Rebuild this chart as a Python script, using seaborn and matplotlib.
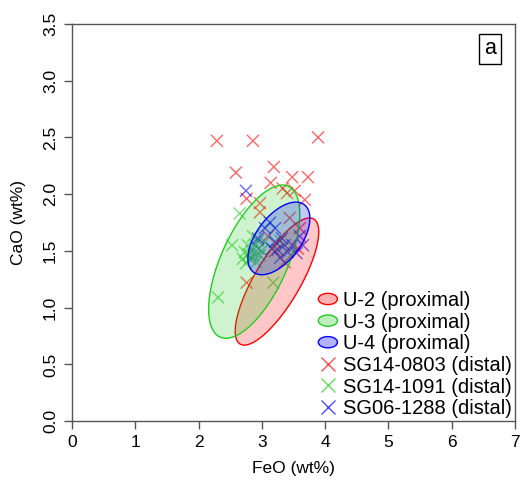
import numpy as np
import pandas as pd
import matplotlib
matplotlib.use("Agg")
import matplotlib.pyplot as plt
import seaborn as sns
from matplotlib.patches import Polygon, Ellipse, Patch
from matplotlib.legend_handler import HandlerPatch
from matplotlib.lines import Line2D

# ---------------- data ----------------
sg0803_feo = [2.29, 2.86, 3.89, 2.59, 3.19, 3.48, 3.73, 3.14, 3.33, 3.52, 2.76, 2.97,
              3.40, 2.97, 3.44, 3.68, 3.57, 2.76, 3.10, 3.36, 3.60, 3.21]
sg0803_cao = [2.47, 2.47, 2.50, 2.19, 2.24, 2.15, 2.15, 2.10, 2.05, 2.03, 1.96, 1.92,
              2.01, 1.84, 1.79, 1.95, 1.52, 1.22, 1.63, 1.40, 1.70, 1.50]

sg1091_feo = [2.31, 2.53, 2.65, 3.18, 2.70, 2.75, 2.84, 2.89, 2.94, 2.81, 3.00, 2.78,
              2.91, 2.97, 3.05, 2.86, 2.73, 3.29, 2.88, 2.80, 2.95]
sg1091_cao = [1.09, 1.55, 1.83, 1.22, 1.43, 1.39, 1.50, 1.55, 1.59, 1.43, 1.50, 1.55,
              1.40, 1.46, 1.58, 1.63, 1.49, 1.59, 1.45, 1.47, 1.52]

sg1288_feo = [2.75, 3.13, 3.21, 3.05, 3.32, 3.21, 3.36, 3.48, 3.25, 3.41, 3.16, 3.55,
              3.60, 2.94, 3.29, 3.65]
sg1288_cao = [2.03, 1.75, 1.70, 1.70, 1.61, 1.58, 1.55, 1.55, 1.51, 1.49, 1.52, 1.48,
              1.63, 1.61, 1.44, 1.55]

# proximal confidence ellipses: centre, half-ranges, correlation
ell_labels = ["U-2 (proximal)", "U-3 (proximal)", "U-4 (proximal)"]
ell_cx = [3.24, 2.88, 3.27]
ell_cy = [1.23, 1.405, 1.61]
ell_sx = [0.66, 0.72, 0.49]
ell_sy = [0.56, 0.675, 0.32]
ell_r = [0.78, 0.62, 0.55]

pt_labels = ["SG14-0803 (distal)", "SG14-1091 (distal)", "SG06-1288 (distal)"]

x_ticks = [0, 1, 2, 3, 4, 5, 6, 7]
y_ticks = [0.0, 0.5, 1.0, 1.5, 2.0, 2.5, 3.0, 3.5]

# ---------------- style ----------------
sns.set_style("white")
plt.rcParams["font.family"] = ["Liberation Sans", "DejaVu Sans"]
plt.rcParams["text.color"] = "black"
plt.rcParams["axes.labelcolor"] = "black"

cols = ["#FF0000", "#22CC22", "#0000FF"]

fig = plt.figure(figsize=(5.27, 4.88), dpi=100)
ax = fig.add_axes([0.1366, 0.137, 0.8404, 0.814])

df = pd.DataFrame({
    "FeO": sg0803_feo + sg1091_feo + sg1288_feo,
    "CaO": sg0803_cao + sg1091_cao + sg1288_cao,
    "sample": [pt_labels[0]] * len(sg0803_feo) + [pt_labels[1]] * len(sg1091_feo)
              + [pt_labels[2]] * len(sg1288_feo),
})
sns.scatterplot(data=df, x="FeO", y="CaO", hue="sample", palette=cols,
                marker="x", s=75, linewidth=1.0, alpha=0.6, legend=False, ax=ax,
                zorder=2)

t = np.linspace(0, 2 * np.pi, 300)
for cx, cy, sx, sy, r, c in zip(ell_cx, ell_cy, ell_sx, ell_sy, ell_r, cols):
    phi = np.arccos(r)
    xs = cx + sx * np.cos(t)
    ys = cy + sy * np.cos(t - phi)
    ax.add_patch(Polygon(np.column_stack([xs, ys]), closed=True,
                         facecolor=matplotlib.colors.to_rgba(c, 0.22),
                         edgecolor=c, lw=1.0, zorder=3))

ax.set_xlim(0, 7)
ax.set_ylim(0, 3.5)
ax.set_xticks(x_ticks)
ax.set_xticklabels([str(v) for v in x_ticks])
ax.set_yticks(y_ticks)
ax.set_yticklabels([f"{v:.1f}" for v in y_ticks], rotation=90, va="center")
ax.tick_params(axis="both", direction="out", length=6, width=1, color="#555555",
               labelsize=12.5, labelcolor="black", pad=4, bottom=True, left=True)
for sp in ax.spines.values():
    sp.set_color("#555555")
    sp.set_linewidth(1.0)
ax.set_xlabel("FeO (wt%)", fontsize=12.5, labelpad=8)
ax.set_ylabel("CaO (wt%)", fontsize=12.5, labelpad=12)

ax.text(0.944, 0.937, "a", transform=ax.transAxes, fontsize=15.5, ha="center",
        va="center", bbox=dict(boxstyle="square,pad=0.22", fc="white", ec="black", lw=1))


class HandlerEllipse(HandlerPatch):
    def create_artists(self, legend, orig_handle, xdescent, ydescent, width,
                       height, fontsize, trans):
        center = (0.5 * width - xdescent, 0.5 * height - ydescent)
        p = Ellipse(xy=center, width=width * 0.95, height=height * 0.8)
        self.update_prop(p, orig_handle, legend)
        p.set_transform(trans)
        return [p]


handles = []
for c in cols:
    handles.append(Patch(facecolor=matplotlib.colors.to_rgba(c, 0.3), edgecolor=c, lw=1))
for c in cols:
    handles.append(Line2D([], [], marker="x", color=c, alpha=0.7, ls="",
                          markersize=10, markeredgewidth=1.0))
leg = ax.legend(handles, ell_labels + pt_labels, loc="lower right",
                bbox_to_anchor=(1.0, 0.0), frameon=False, fontsize=14.5,
                handler_map={Patch: HandlerEllipse()}, handlelength=1.0,
                handleheight=0.7, handletextpad=0.25, labelspacing=0.13,
                borderaxespad=0.0, borderpad=0.15)

fig.savefig("out.png", dpi=100)
